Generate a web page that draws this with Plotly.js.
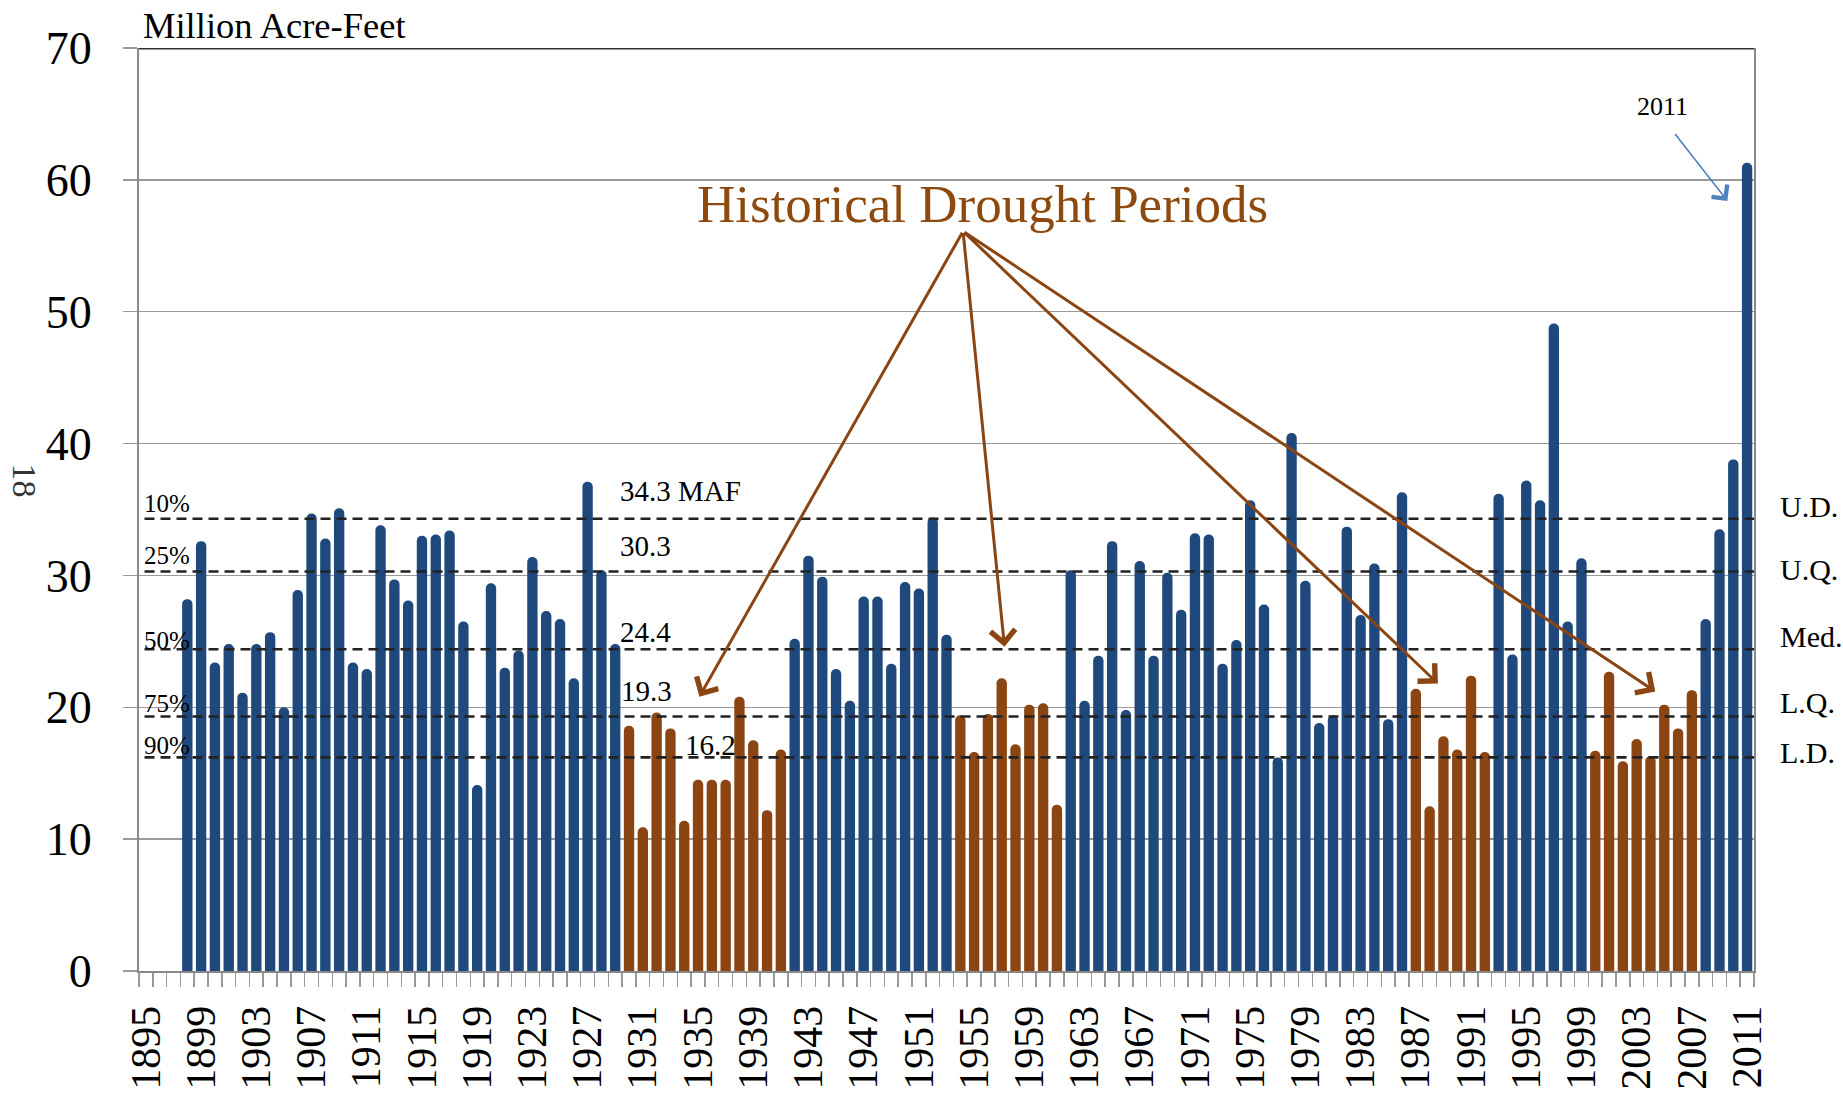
<!DOCTYPE html>
<html>
<head>
<meta charset="utf-8">
<script src="https://cdn.plot.ly/plotly-3.0.1.min.js"></script>
<style>
html,body{margin:0;padding:0;background:#fff;}
#chart{width:1843px;height:1095px;}
</style>
</head>
<body>
<div id="chart"></div>
<script>
// ---- data ----
const years = [1898,1899,1900,1901,1902,1903,1904,1905,1906,1907,1908,1909,1910,1911,1912,1913,1914,1915,1916,1917,1918,1919,
  1920,1921,1922,1923,1924,1925,1926,1927,1928,1929,1930,1931,1932,1933,1934,1935,1936,1937,1938,1939,
  1940,1941,1942,1943,1944,1945,1946,1947,1948,1949,1950,1951,1952,1953,1954,1955,1956,1957,1958,1959,
  1960,1961,1962,1963,1964,1965,1966,1967,1968,1969,1970,1971,1972,1973,1974,1975,1976,1977,1978,1979,
  1980,1981,1982,1983,1984,1985,1986,1987,1988,1989,1990,1991,1992,1993,1994,1995,1996,1997,1998,1999,
  2000,2001,2002,2003,2004,2005,2006,2007,2008,2009,2010,2011];
const runoffMAF = [28.2,32.6,23.4,24.8,21.1,24.8,25.7,20.0,28.9,34.7,32.8,35.1,23.4,22.9,33.8,29.7,28.1,33.0,33.1,33.4,26.5,14.1,
  29.4,23.0,24.3,31.4,27.3,26.7,22.2,37.1,30.4,24.8,18.6,10.9,19.6,18.4,11.4,14.5,14.5,14.5,20.8,17.5,
  12.2,16.8,25.2,31.5,29.9,22.9,20.5,28.4,28.4,23.3,29.5,29.0,34.4,25.5,19.4,16.6,19.5,22.2,17.2,20.2,
  20.3,12.6,30.4,20.5,23.9,32.6,19.8,31.1,23.9,30.2,27.4,33.2,33.1,23.3,25.1,35.7,27.8,16.2,40.8,29.6,
  18.8,19.4,33.7,27.0,30.9,19.1,36.3,21.4,12.5,17.8,16.8,22.4,16.6,36.2,24.0,37.2,35.7,49.1,26.5,31.3,
  16.7,22.7,15.9,17.6,16.3,20.2,18.4,21.3,26.7,33.5,38.8,61.3];
const droughtPeriods = [[1930,1941],[1954,1961],[1987,1992],[2000,2007]];
const tickYears = [1895,1899,1903,1907,1911,1915,1919,1923,1927,1931,1935,1939,1943,1947,1951,1955,1959,
  1963,1967,1971,1975,1979,1983,1987,1991,1995,1999,2003,2007,2011];
const refValues = [34.3, 30.3, 24.4, 19.3, 16.2];
const refValueLabels = ["34.3 MAF", "30.3", "24.4", "19.3", "16.2"];
const refPercentLabels = ["10%", "25%", "50%", "75%", "90%"];
const refRightLabels = ["U.D.", "U.Q.", "Med.", "L.Q.", "L.D."];
const arrowTargets = [[1935.1,20.8],[1957.2,24.6],[1988.6,21.8],[2004.35,21.2]];
const arrowSource = [1954.2, 56.1];

// ---- styling ----
const BLUE = '#1F497D';
const BROWN = '#8B4513';
const SERIF = 'Liberation Serif, Times New Roman, serif';

const isDrought = y => droughtPeriods.some(p => y >= p[0] && y <= p[1]);
const barColors = years.map(y => isDrought(y) ? BROWN : BLUE);

const trace = {
  type: 'bar',
  x: years,
  y: runoffMAF,
  width: 0.75,
  marker: {color: barColors, cornerradius: 5, line: {width: 0}},
  hoverinfo: 'x+y'
};

// positions for labels (data coords)
const valueLabelPos = [[1929.2,36.4],[1929.2,32.2],[1929.2,25.7],[1929.3,21.27],[1933.94,17.15]];
const pctLabelY = [35.45, 31.5, 25.1, 20.3, 17.1];
const rightLabelY = [35.2, 30.44, 25.4, 20.33, 16.55];

const shapes = refValues.map(v => ({
  type: 'line', xref: 'x', yref: 'y', x0: 1894.9, x1: 2011.5, y0: v, y1: v,
  line: {color: '#222', width: 2.6, dash: '10px,6px'}
}));
shapes.push({type: 'line', xref: 'paper', yref: 'y', x0: 0, x1: 1, y0: 70, y1: 70,
  line: {color: '#333', width: 3}});

const annotations = [];
annotations.push({xref: 'paper', yref: 'paper', x: 0.0015, y: 1.0245, xanchor: 'left', yanchor: 'middle',
  text: 'Million Acre-Feet', showarrow: false, font: {family: SERIF, size: 36.5, color: '#000'}});
annotations.push({xref: 'x', yref: 'y', x: 1955.64, y: 58.2, xanchor: 'center', yanchor: 'middle',
  text: 'Historical Drought Periods', showarrow: false, font: {family: SERIF, size: 53, color: '#8E4A0E'}});
arrowTargets.forEach(t => {
  annotations.push({xref: 'x', yref: 'y', x: t[0], y: t[1], axref: 'x', ayref: 'y',
    ax: arrowSource[0], ay: arrowSource[1], text: '', showarrow: true,
    arrowhead: 4, arrowsize: 1.6, arrowwidth: 3, arrowcolor: BROWN, standoff: 0, startstandoff: 0});
});
annotations.push({xref: 'x', yref: 'y', x: 2004.86, y: 65.56, xanchor: 'center', yanchor: 'middle',
  text: '2011', showarrow: false, font: {family: SERIF, size: 26, color: '#000'}});
annotations.push({xref: 'x', yref: 'y', x: 2009.57, y: 58.4, axref: 'x', ayref: 'y',
  ax: 2005.7, ay: 63.6, text: '', showarrow: true, arrowhead: 4, arrowsize: 2.4,
  arrowwidth: 1.6, arrowcolor: '#4F81BD', standoff: 0});
refValueLabels.forEach((t, i) => {
  annotations.push({xref: 'x', yref: 'y', x: valueLabelPos[i][0], y: valueLabelPos[i][1],
    xanchor: 'left', yanchor: 'middle', text: t, showarrow: false,
    font: {family: SERIF, size: 29, color: '#000'}});
});
refPercentLabels.forEach((t, i) => {
  annotations.push({xref: 'x', yref: 'y', x: 1894.7, y: pctLabelY[i], xanchor: 'left', yanchor: 'middle',
    text: t, showarrow: false, font: {family: SERIF, size: 25, color: '#000'}});
});
refRightLabels.forEach((t, i) => {
  annotations.push({xref: 'paper', yref: 'y', x: 1.0148, y: rightLabelY[i], xanchor: 'left', yanchor: 'middle',
    text: t, showarrow: false, font: {family: SERIF, size: 30, color: '#000'}});
});
annotations.push({xref: 'paper', yref: 'y', x: -0.0712, y: 37.2, xanchor: 'center', yanchor: 'middle',
  text: '18', textangle: 90, showarrow: false, font: {family: SERIF, size: 34, color: '#333'}});

const layout = {
  width: 1843, height: 1095,
  margin: {l: 139, r: 89, t: 48, b: 124, pad: 0},
  paper_bgcolor: '#fff', plot_bgcolor: '#fff',
  showlegend: false,
  xaxis: {
    type: 'linear', range: [1894.5, 2011.5], fixedrange: true,
    tickmode: 'array', tickvals: tickYears, ticktext: tickYears.map(String),
    tickangle: -90, tickfont: {family: SERIF, size: 42, color: '#000'},
    ticks: 'outside', ticklen: 14, tickcolor: 'rgba(0,0,0,0)', ticklabelstandoff: 2,
    minor: {ticks: 'outside', ticklen: 14, tickwidth: 1.5, tickcolor: '#999',
      tickmode: 'linear', tick0: 1894.5, dtick: 1, showgrid: false},
    showgrid: false, zeroline: false,
    showline: true, linecolor: '#888', linewidth: 2, mirror: false
  },
  yaxis: {
    range: [0, 70], dtick: 10, tick0: 0, fixedrange: true,
    tickfont: {family: SERIF, size: 46, color: '#000'},
    ticks: 'outside', ticklen: 14, tickwidth: 1.5, tickcolor: '#999', ticklabelstandoff: 22,
    showgrid: true, gridcolor: '#999', gridwidth: 1.5,
    zeroline: false, showline: true, linecolor: '#888', linewidth: 2, mirror: true
  },
  shapes: shapes,
  annotations: annotations
};

Plotly.newPlot('chart', [trace], layout, {displayModeBar: false, staticPlot: true});
</script>
</body>
</html>
